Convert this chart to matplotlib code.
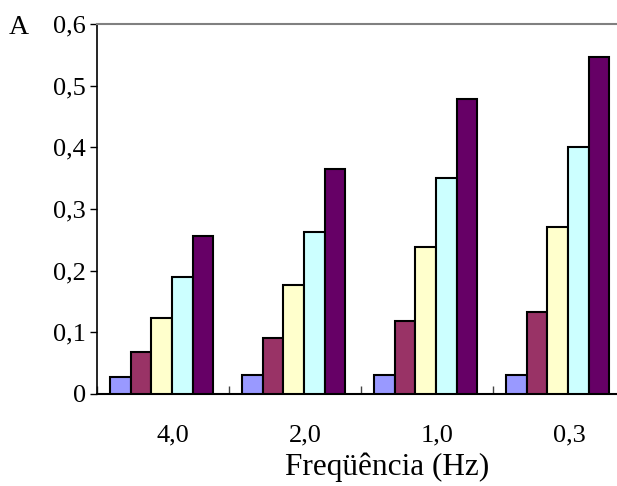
import matplotlib
matplotlib.use("Agg")
import matplotlib.pyplot as plt
import matplotlib.transforms as mtransforms
import numpy as np

categories = ["4,0", "2,0", "1,0", "0,3"]
series_1 = [0.028, 0.031, 0.031, 0.031]
series_2 = [0.068, 0.091, 0.119, 0.133]
series_3 = [0.124, 0.177, 0.238, 0.270]
series_4 = [0.190, 0.263, 0.350, 0.400]
series_5 = [0.257, 0.365, 0.478, 0.547]
series = [series_1, series_2, series_3, series_4, series_5]
colors = ["#9999FF", "#993366", "#FFFFCC", "#CCFFFF", "#660066"]
yticks = [0, 0.1, 0.2, 0.3, 0.4, 0.5, 0.6]
ytick_labels = ["0", "0,1", "0,2", "0,3", "0,4", "0,5", "0,6"]

plt.rcParams['font.family'] = ['Liberation Serif', 'DejaVu Serif']

fig = plt.figure(figsize=(6.17, 4.86), dpi=100)
ax = fig.add_axes([97/617, 1-394/486, 528/617, 370/486])

x = np.arange(len(categories))
w = 0.156
for i, (vals, c) in enumerate(zip(series, colors)):
    ax.bar(x - 2*w + i*w - 0.01, vals, width=w, color=c, edgecolor="black",
           linewidth=1.5, zorder=3)

ax.set_xlim(-0.5, len(categories) - 0.5)
ax.set_ylim(0, 0.6)
ax.set_yticks(yticks)
ax.set_yticklabels(ytick_labels, fontsize=19)
ax.set_xticks(x)
ax.set_xticklabels(categories, fontsize=19)
ax.set_xticks(np.arange(len(categories) + 1) - 0.5, minor=True)
ax.tick_params(axis="x", which="major", length=0, pad=22)
ax.tick_params(axis="x", which="minor", direction="in", length=6, width=1, color="#444444")
ax.tick_params(axis="y", direction="out", length=5, width=1, pad=3)

offset = mtransforms.ScaledTranslation(10/100, 0, fig.dpi_scale_trans)
for lab in ax.get_xticklabels():
    lab.set_transform(lab.get_transform() + offset)

ax.spines["right"].set_visible(False)
ax.spines["top"].set_color("#808080")
ax.spines["top"].set_linewidth(1.5)
ax.spines["left"].set_linewidth(1.2)
ax.spines["bottom"].set_linewidth(1.5)

ax.set_xlabel("Freqüência (Hz)", fontsize=22.5)
ax.xaxis.set_label_coords((387-97)/528, (394-467)/370)
ax.xaxis.label.set_va("center")

fig.text(19/617, 1-27/486, "A", fontsize=20, ha="center", va="center")

fig.savefig("out.png", dpi=100)
